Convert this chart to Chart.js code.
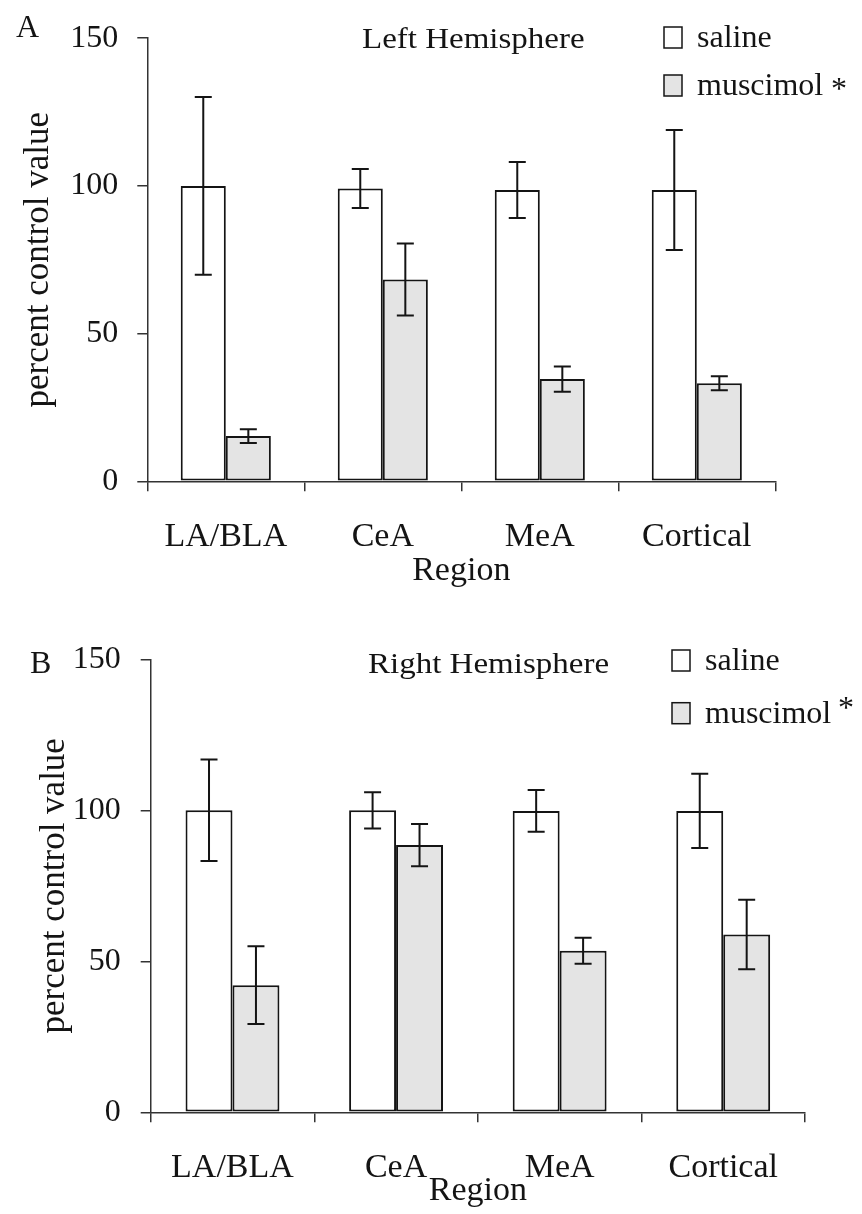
<!DOCTYPE html>
<html>
<head>
<meta charset="utf-8">
<script src="https://cdn.jsdelivr.net/npm/chart.js@4.4.1/dist/chart.umd.min.js"></script>
<style>
  body { margin: 0; background: #fff; }
  canvas { display: block; }
</style>
</head>
<body>
<canvas id="chartA" width="862" height="600"></canvas>
<canvas id="chartB" width="862" height="614"></canvas>
<script>
// data
const regions = ["LA/BLA", "CeA", "MeA", "Cortical"];
const yTicks = [0, 50, 100, 150];

const leftSaline = [100, 99.1, 98.6, 98.6];
const leftSalineErr = [30.1, 6.6, 9.5, 20.3];
const leftMuscimol = [15.3, 68.3, 34.6, 33.2];
const leftMuscimolErr = [2.3, 12.2, 4.3, 2.4];

const rightSaline = [100, 100, 99.8, 99.8];
const rightSalineErr = [16.8, 6, 6.9, 12.3];
const rightMuscimol = [42.1, 88.5, 53.5, 58.9];
const rightMuscimolErr = [12.9, 7, 4.3, 11.5];

const serif = "'Liberation Serif', 'Times New Roman', serif";
const ink = "#141414";
const grayFill = "#e4e4e4";

// draws mean +/- error with caps
const errorBars = {
    id: 'errorBars',
    afterDatasetsDraw(chart) {
        const ctx = chart.ctx;
        const y = chart.scales.y;
        ctx.save();
        ctx.strokeStyle = ink;
        ctx.lineWidth = 2;
        chart.data.datasets.forEach((ds, i) => {
            chart.getDatasetMeta(i).data.forEach((bar, j) => {
                const top = y.getPixelForValue(ds.data[j] + ds.errors[j]);
                const bot = y.getPixelForValue(ds.data[j] - ds.errors[j]);
                const x = bar.x;
                ctx.beginPath();
                ctx.moveTo(x, top); ctx.lineTo(x, bot);
                ctx.moveTo(x - 8.5, top); ctx.lineTo(x + 8.5, top);
                ctx.moveTo(x - 8.5, bot); ctx.lineTo(x + 8.5, bot);
                ctx.stroke();
            });
        });
        ctx.restore();
    }
};

// panel letter, hemisphere title and the boxed legend
const panelDecor = {
    id: 'panelDecor',
    afterDraw(chart, args, o) {
        const ctx = chart.ctx;
        ctx.save();
        ctx.fillStyle = ink;
        ctx.textAlign = 'left';
        ctx.textBaseline = 'alphabetic';
        ctx.font = `32px ${serif}`;
        ctx.fillText(o.letter, o.letterX, o.letterY);

        // the printed title is a bit wider than plain Times
        ctx.save();
        ctx.translate(o.titleX, o.titleY);
        ctx.scale(1.1, 1);
        ctx.font = `30px ${serif}`;
        ctx.fillText(o.title, 0, 0);
        ctx.restore();

        ctx.font = `32px ${serif}`;
        ctx.lineWidth = 1.5;
        ctx.strokeStyle = ink;
        chart.data.datasets.forEach((ds, i) => {
            const base = o.legendY + i * o.legendGap;
            ctx.fillStyle = ds.backgroundColor;
            ctx.fillRect(o.legendX, base - 20, 18, 21);
            ctx.strokeRect(o.legendX, base - 20, 18, 21);
            ctx.fillStyle = ink;
            ctx.fillText(ds.label, o.legendX + 33, base);
        });
        ctx.fillText('*', o.starX, o.starY);
        ctx.restore();
    }
};

function makeChart(id, saline, salineErr, muscimol, muscimolErr, decor, box) {
    return new Chart(document.getElementById(id), {
        type: 'bar',
        data: {
            labels: regions,
            datasets: [{
                label: 'saline',
                data: saline,
                errors: salineErr,
                backgroundColor: '#ffffff',
                borderColor: ink,
                borderWidth: 2,
                borderSkipped: false
            }, {
                label: 'muscimol',
                data: muscimol,
                errors: muscimolErr,
                backgroundColor: grayFill,
                borderColor: ink,
                borderWidth: 2,
                borderSkipped: false
            }]
        },
        options: {
            responsive: false,
            animation: false,
            layout: { padding: { left: 0, top: box.top, right: box.right, bottom: 0 } },
            datasets: { bar: { categoryPercentage: 0.574, barPercentage: 1 } },
            plugins: {
                legend: { display: false },
                tooltip: { enabled: false },
                panelDecor: decor
            },
            scales: {
                x: {
                    afterFit: s => { s.height = box.xHeight; },
                    grid: { offset: true, drawOnChartArea: false, tickLength: 10, color: '#333', lineWidth: 1.5 },
                    border: { color: '#333', width: 1.5 },
                    ticks: { font: { family: serif, size: 34 }, color: ink, padding: 25 },
                    title: {
                        display: true,
                        text: 'Region',
                        font: { family: serif, size: 34 },
                        color: ink,
                        padding: { top: 0, bottom: box.regionPad }
                    }
                },
                y: {
                    min: 0,
                    max: 150,
                    afterFit: s => { s.width = box.yWidth; },
                    afterBuildTicks: s => { s.ticks = yTicks.map(v => ({ value: v })); },
                    grid: { drawOnChartArea: false, tickLength: 10, color: '#333', lineWidth: 1.5 },
                    border: { color: '#333', width: 1.5 },
                    ticks: { font: { family: serif, size: 32 }, color: ink, padding: box.tickPad },
                    title: {
                        display: true,
                        text: 'percent control value',
                        font: { family: serif, size: 35 },
                        color: ink,
                        padding: { top: box.titlePad, bottom: 0 }
                    }
                }
            }
        },
        plugins: [errorBars, panelDecor]
    });
}

makeChart('chartA', leftSaline, leftSalineErr, leftMuscimol, leftMuscimolErr, {
    letter: 'A', letterX: 16, letterY: 37,
    title: 'Left Hemisphere', titleX: 362, titleY: 48,
    legendX: 664, legendY: 47, legendGap: 48,
    starX: 831, starY: 99
}, { top: 35.4, right: 86.7, xHeight: 118.7, yWidth: 147.3, regionPad: 8.8, tickPad: 19, titlePad: 17.5 });

makeChart('chartB', rightSaline, rightSalineErr, rightMuscimol, rightMuscimolErr, {
    letter: 'B', letterX: 30, letterY: 73,
    title: 'Right Hemisphere', titleX: 368, titleY: 73,
    legendX: 672, legendY: 70, legendGap: 52.7,
    starX: 838, starY: 117.6
}, { top: 59.3, right: 57, xHeight: 101.7, yWidth: 150.7, regionPad: 2.8, tickPad: 20, titlePad: 34.2 });
</script>
</body>
</html>
